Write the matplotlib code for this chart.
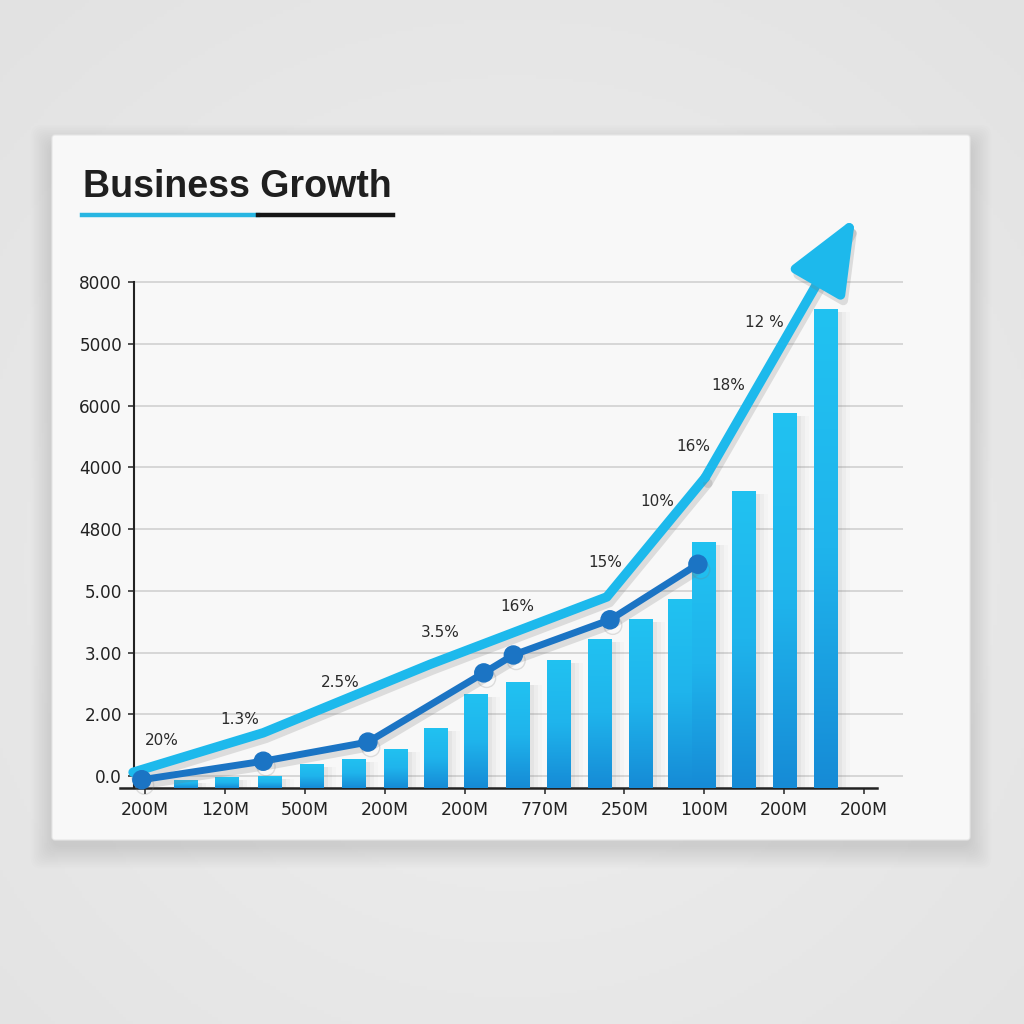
import matplotlib
matplotlib.use("Agg")
import matplotlib.pyplot as plt
import matplotlib.patheffects as pe
from matplotlib.patches import FancyBboxPatch, Rectangle
from matplotlib.lines import Line2D
from matplotlib.colors import LinearSegmentedColormap
import numpy as np


######################################################################## data

# tick labels exactly as printed on the chart (bottom to top / left to right)
y_tick_labels = ["0.0", "2.00", "3.00", "5.00", "4800", "4000", "6000", "5000", "8000"]
x_tick_labels = ["200M", "120M", "500M", "200M", "200M", "770M", "250M", "100M", "200M", "200M"]

# bars: x in tick units, top value in grid units
bar_x = [0.51, 1.03, 1.56, 2.09, 2.62, 3.14, 3.64, 4.14, 4.67, 5.18, 5.69,
         6.21, 6.70, 7.00, 7.50, 8.01, 8.52]
bar_top = [-0.06, -0.02, 0.0, 0.19, 0.28, 0.44, 0.78, 1.33, 1.52, 1.88, 2.22,
           2.54, 2.87, 3.79, 4.62, 5.88, 7.56]

# light blue growth trend ending in the arrow
growth_x = [-0.15, 1.48, 3.57, 5.78, 7.01, 8.89]
growth_y = [0.06, 0.70, 1.81, 2.90, 4.83, 9.05]

# dark blue line with markers
revenue_x = [-0.04, 1.48, 2.79, 4.24, 4.61, 5.82, 6.92]
revenue_y = [-0.06, 0.24, 0.55, 1.67, 1.96, 2.53, 3.43]

# percentage annotations
pct_labels = ["20%", "1.3%", "2.5%", "3.5%", "16%", "15%", "10%", "16%", "18%", "12 %"]
pct_x = [0.21, 1.19, 2.44, 3.69, 4.66, 5.76, 6.41, 6.86, 7.30, 7.75]
pct_y = [0.57, 0.92, 1.51, 2.32, 2.75, 3.45, 4.45, 5.33, 6.32, 7.34]


######################################################################## style

LIGHT_BLUE = "#1db9ec"
DARK_BLUE = "#1b74c4"
AXIS_COLOR = "#222222"

plt.rcParams["font.family"] = ["DejaVu Sans"]

fig = plt.figure(figsize=(10.24, 10.24), dpi=100)

# background with soft vignette
bg = fig.add_axes([0, 0, 1, 1])
bg.set_xlim(0, 1)
bg.set_ylim(0, 1)
bg.axis("off")
gx, gy = np.meshgrid(np.linspace(0, 1, 300), np.linspace(0, 1, 300))
r = np.sqrt((gx - 0.5) ** 2 + (gy - 0.45) ** 2)
bg_cmap = LinearSegmentedColormap.from_list("bg", ["#f0f0f0", "#e2e2e2"])
bg.imshow(r, cmap=bg_cmap, extent=[0, 1, 0, 1], origin="lower", aspect="auto", zorder=0)

# card + soft shadow
card_l, card_b, card_w, card_h = 52 / 1024, 184 / 1024, 918 / 1024, 705 / 1024
for i in range(14):
    grow = i * 0.0016
    bg.add_patch(FancyBboxPatch(
        (card_l - grow, card_b - grow - 0.007), card_w + 2 * grow, card_h + 2 * grow - 0.004,
        boxstyle="round,pad=0,rounding_size=0.01",
        facecolor="black", edgecolor="none", alpha=0.009, zorder=1,
    ))
bg.add_patch(FancyBboxPatch(
    (card_l, card_b), card_w, card_h,
    boxstyle="round,pad=0,rounding_size=0.003",
    facecolor="#f8f8f8", edgecolor="#e6e6e6", linewidth=0.8, zorder=2,
))

# title and underline
fig.text(83 / 1024, 1 - 197 / 1024, "Business Growth", fontsize=27, fontweight="bold",
         color="#1f1f1f", family=["Liberation Sans", "DejaVu Sans"], va="baseline")
fig.add_artist(Line2D([82 / 1024, 258 / 1024], [1 - 215 / 1024] * 2,
                      color="#28b6e2", linewidth=3.2, transform=fig.transFigure))
fig.add_artist(Line2D([258 / 1024, 393 / 1024], [1 - 215 / 1024] * 2,
                      color="#161616", linewidth=3.2, transform=fig.transFigure))

######################################################################## chart

ax = fig.add_axes([134 / 1024, 236 / 1024, 769 / 1024, 588 / 1024])
ax.patch.set_alpha(0)
x_min, x_max = -0.138, 9.487
y_min, y_max = -0.194, 9.328

bar_cmap = LinearSegmentedColormap.from_list("bars", ["#168bd6", "#1fb4ec", "#21c2f1"])
grad = np.linspace(0, 1, 200).reshape(-1, 1)
bar_w = 0.30

for x, top in zip(bar_x, bar_top):
    x0 = x - bar_w / 2
    h = top - y_min
    # soft shadow to the right
    for k, a in zip([0.05, 0.10, 0.15], [0.06, 0.04, 0.025]):
        ax.add_patch(Rectangle((x0 + k, y_min), bar_w, h - 0.05,
                               facecolor="#555555", edgecolor="none", alpha=a, zorder=2))
    rect = Rectangle((x0, y_min), bar_w, h, facecolor="none", edgecolor="none", zorder=3)
    ax.add_patch(rect)
    im = ax.imshow(grad, cmap=bar_cmap, extent=[x0, x0 + bar_w, y_min, top],
                   origin="lower", aspect="auto", zorder=3)
    im.set_clip_path(rect)

shadow = [pe.SimpleLineShadow(offset=(2, -4), shadow_color="#7a7a7a", alpha=0.22),
          pe.Normal()]

ax.plot(growth_x[:-1], growth_y[:-1], color=LIGHT_BLUE, linewidth=6.8,
        solid_capstyle="round", solid_joinstyle="round", zorder=5,
        path_effects=shadow, clip_on=False)
ax.annotate(
    "", xy=(growth_x[-1], growth_y[-1]), xytext=(growth_x[-2], growth_y[-2]),
    arrowprops=dict(arrowstyle="-|>,head_length=3.0,head_width=1.25", mutation_scale=15,
                    color=LIGHT_BLUE, linewidth=6.8, shrinkA=0, shrinkB=0,
                    path_effects=shadow),
    annotation_clip=False, zorder=5,
)

ax.plot(revenue_x, revenue_y, color=DARK_BLUE, linewidth=5, marker="o", markersize=13,
        markerfacecolor=DARK_BLUE, markeredgecolor=DARK_BLUE, zorder=6,
        path_effects=shadow, clip_on=False)

for label, x, y in zip(pct_labels, pct_x, pct_y):
    ax.text(x, y, label, fontsize=11, color="#2b2b2b", ha="center", va="center", zorder=7)

ax.set_xlim(x_min, x_max)
ax.set_ylim(y_min, y_max)

ax.set_yticks(range(len(y_tick_labels)))
ax.set_yticklabels(y_tick_labels)
ax.set_xticks(range(len(x_tick_labels)))
ax.set_xticklabels(x_tick_labels)
ax.tick_params(axis="y", length=4, width=1.1, color=AXIS_COLOR, pad=4.5,
               labelsize=12.2, labelcolor="#222222")
ax.tick_params(axis="x", length=4.5, width=1.1, color=AXIS_COLOR, pad=5,
               labelsize=12.5, labelcolor="#222222")

ax.grid(axis="y", color="#cdcdcd", linewidth=1.1, zorder=1)
ax.set_axisbelow(True)

ax.spines["top"].set_visible(False)
ax.spines["right"].set_visible(False)
ax.spines["left"].set_bounds(y_min, 8)
ax.spines["left"].set_color(AXIS_COLOR)
ax.spines["left"].set_linewidth(1.5)
ax.spines["bottom"].set_bounds(-0.31, 9.16)
ax.spines["bottom"].set_color(AXIS_COLOR)
ax.spines["bottom"].set_linewidth(1.8)

fig.savefig("out.png", dpi=100)
plt.close(fig)
